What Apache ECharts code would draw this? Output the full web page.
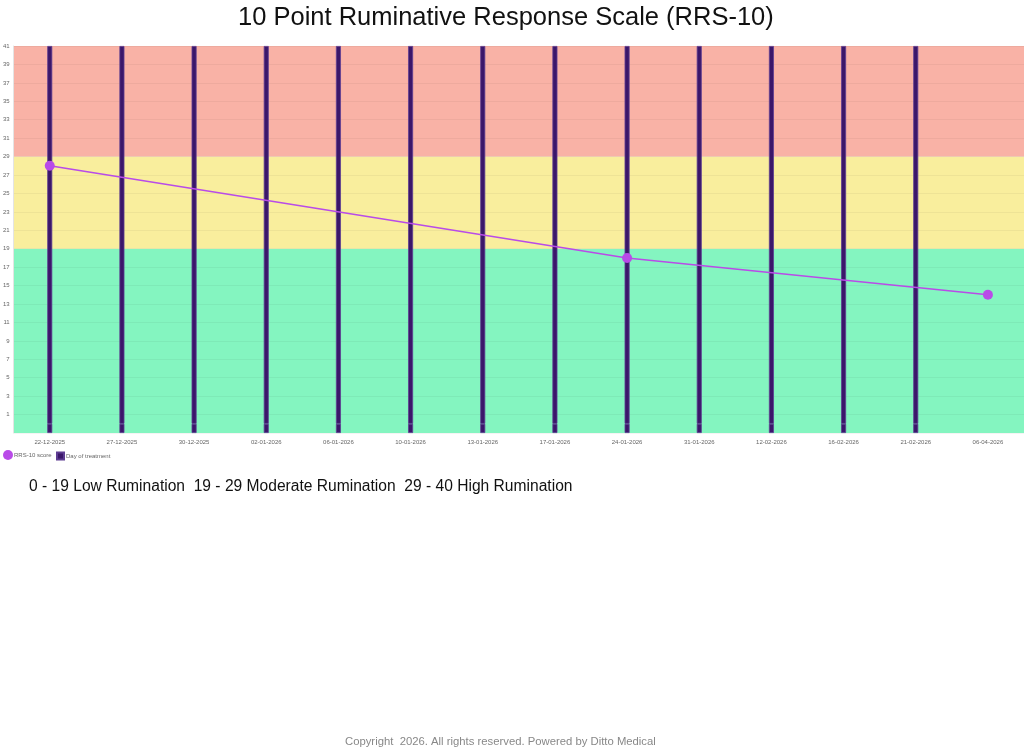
<!DOCTYPE html>
<html>
<head>
<meta charset="utf-8">
<title>RRS-10</title>
<script src="https://cdn.jsdelivr.net/npm/echarts@6/dist/echarts.min.js"></script>
<style>
    html, body { margin: 0; padding: 0; background: #fff; }
    #chart { width: 1024px; height: 749px; }
</style>
</head>
<body>
<div id="chart"></div>
<script>
var dates = ['22-12-2025', '27-12-2025', '30-12-2025', '02-01-2026', '06-01-2026', '10-01-2026', '13-01-2026',
    '17-01-2026', '24-01-2026', '31-01-2026', '12-02-2026', '16-02-2026', '21-02-2026', '06-04-2026'];
var scores = [28, null, null, null, null, null, null, null, 18, null, null, null, null, 14];
var treatmentDays = [41, 41, 41, 41, 41, 41, 41, 41, 41, 41, 41, 41, 41, null];
var treatmentBase = [-1, -1, -1, -1, -1, -1, -1, -1, -1, -1, -1, -1, -1, null];
var bandFrom = [-1, 19, 29];
var bandTo = [19, 29, 41];
var bandNames = ['0 - 19 Low Rumination', '19 - 29 Moderate Rumination', '29 - 40 High Rumination'];
var bandColors = ['#84f5c0', '#f9ee9d', '#f9b2a6'];

var chart = echarts.init(document.getElementById('chart'));

var bands = bandFrom.map(function (f, i) {
    return [{ yAxis: f, itemStyle: { color: bandColors[i] } }, { yAxis: bandTo[i] }];
});

var barStyle = { color: '#3b176a', borderColor: '#5e3d92', borderWidth: 0.8 };

option = {
    animation: false,
    textStyle: { fontFamily: 'Liberation Sans' },
    title: {
        text: '10 Point Ruminative Response Scale (RRS-10)',
        left: 233,
        top: 0,
        textStyle: { fontSize: 25.5, fontWeight: 'normal', color: '#111' }
    },
    legend: [
        {
            left: 3,
            top: 450,
            padding: 0,
            itemWidth: 10,
            itemHeight: 10,
            textStyle: { fontSize: 6, color: '#666', padding: [0, 0, 0, -4] },
            data: [{ name: 'RRS-10 score', icon: 'circle' }]
        },
        {
            left: 56,
            top: 451.5,
            padding: 0,
            itemWidth: 7,
            itemHeight: 7,
            textStyle: { fontSize: 6, color: '#666', padding: [0, 0, 0, -3] },
            data: [{ name: 'Day of treatment', icon: 'rect' }]
        }
    ],
    grid: { left: 12, right: 0, top: 46, bottom: 316 },
    xAxis: {
        type: 'category',
        data: dates,
        axisLine: { show: false },
        axisTick: { show: false },
        axisLabel: { fontSize: 6, color: '#666', margin: 6, interval: 0 }
    },
    yAxis: {
        type: 'value',
        min: -1,
        max: 41,
        interval: 2,
        z: 2,
        axisLine: { show: true, lineStyle: { color: '#e4e4e4' } },
        axisLabel: {
            fontSize: 6,
            color: '#666',
            margin: 4,
            formatter: function (v) { return v < 0 ? '' : v; }
        },
        splitLine: { show: true, lineStyle: { color: 'rgba(0,0,0,0.045)' } }
    },
    series: [
        {
            name: 'RRS-10 score',
            type: 'line',
            data: scores,
            connectNulls: true,
            symbol: 'circle',
            symbolSize: 10,
            z: 5,
            itemStyle: { color: '#b94be8' },
            lineStyle: { color: '#b94be8', width: 1.5 }
        },
        {
            name: 'Day of treatment',
            type: 'bar',
            data: treatmentDays,
            barWidth: 5,
            barGap: '-100%',
            z: 3,
            itemStyle: barStyle
        },
        {
            name: 'Day of treatment',
            type: 'bar',
            data: treatmentBase,
            barWidth: 5,
            barGap: '-100%',
            z: 1,
            itemStyle: barStyle,
            markArea: { silent: true, data: bands }
        }
    ],
    graphic: [
        {
            type: 'text',
            left: 29,
            top: 479,
            style: { text: bandNames.join('  '), fontSize: 15.6, fill: '#111', fontFamily: 'Liberation Sans' }
        },
        {
            type: 'text',
            left: 345,
            top: 736,
            style: { text: 'Copyright  2026. All rights reserved. Powered by Ditto Medical', fontSize: 11.3, fill: '#888', fontFamily: 'Liberation Sans' }
        }
    ]
};
chart.setOption(option);
</script>
</body>
</html>
